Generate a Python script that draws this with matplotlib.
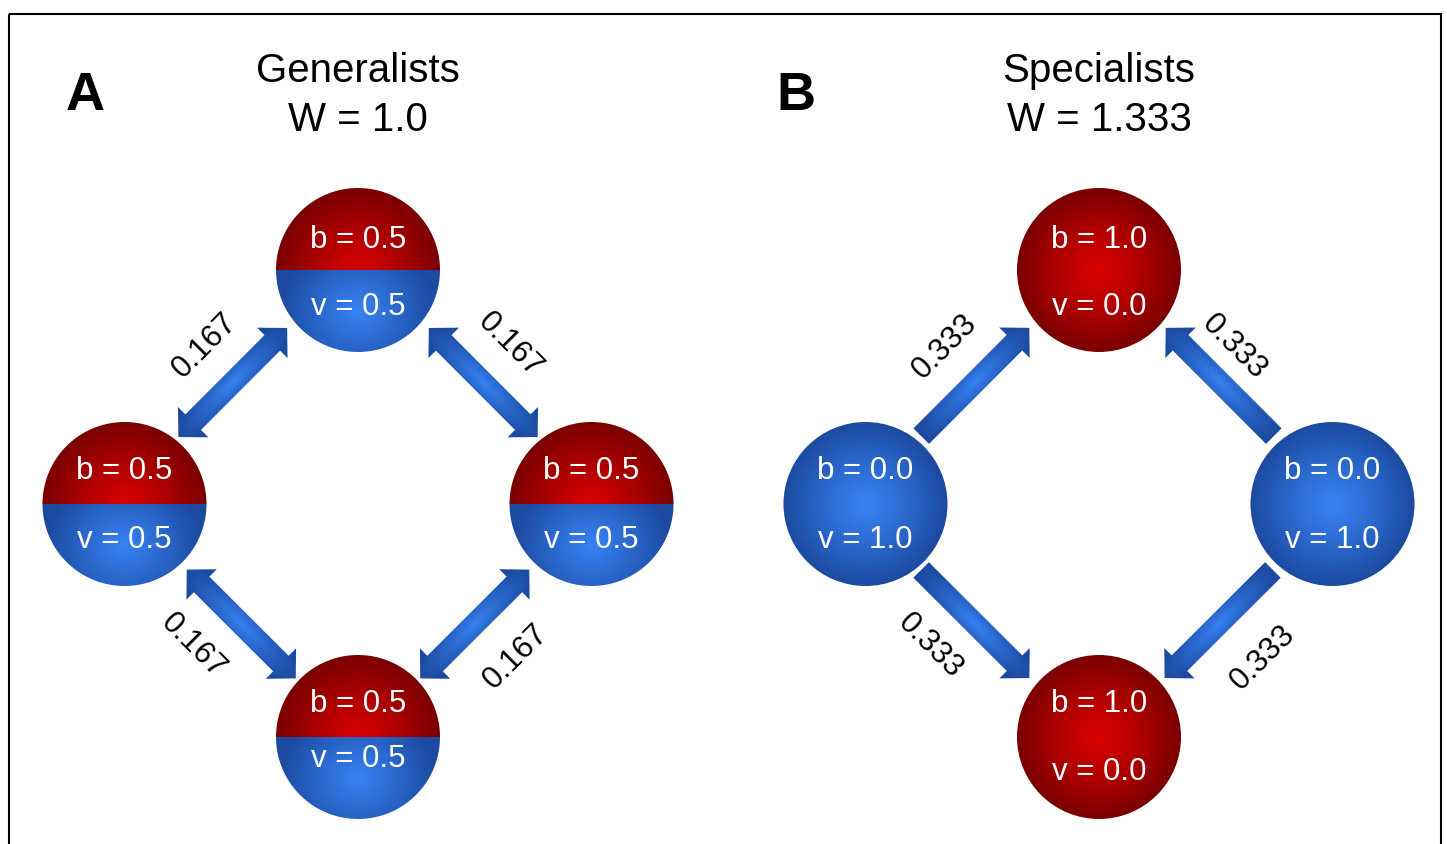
import numpy as np
import matplotlib.pyplot as plt
from matplotlib.patches import Circle, Polygon, Rectangle

plt.rcParams['font.family'] = ['Liberation Sans', 'DejaVu Sans']

# data
panel_letters = ["A", "B"]
panel_titles = ["Generalists", "Specialists"]
panel_W = ["1.0", "1.333"]
node_order = ["top", "left", "right", "bottom"]
b_values = [[0.5, 0.5, 0.5, 0.5], [1.0, 0.0, 0.0, 1.0]]
v_values = [[0.5, 0.5, 0.5, 0.5], [0.0, 1.0, 1.0, 0.0]]
# edges: (side node, top/bottom node)
edges = [(1, 0), (2, 0), (1, 3), (2, 3)]
edge_weights = [[0.167, 0.167, 0.167, 0.167], [0.333, 0.333, 0.333, 0.333]]
two_way = [True, False]

# layout (pixels)
W_PX, H_PX = 1447, 844
panel_cx = [358, 1099]
letter_x = [85, 796]
node_dx = [0, -233.5, 233.5, 0]
node_y = [270, 504, 504, 737]
R = 82
arrow_nudge = [[(-8.5, -4.5), (8.5, -4.5), (0, 3.5), (0, 3.5)],
               [(-7, -5), (4, -5), (-7, 3.5), (3, 3.5)]]
arrow_len = [154, 153]
label_off = [[(-27.5, -36.5), (26.5, -37.5), (-48.5, 22), (41.5, 33)],
             [(-30.5, -35.5), (14, -35), (-45.5, 22), (44.5, 34)]]
b_dy = [-30, -33, -33, -33]
v_dy = [[37, 36, 36, 22], [37, 36, 36, 35]]

RED_IN, RED_OUT = np.array([218, 0, 0]) / 255, np.array([122, 0, 0]) / 255
BLUE_IN, BLUE_OUT = np.array([55, 130, 242]) / 255, np.array([28, 74, 160]) / 255

fig = plt.figure(figsize=(W_PX / 100, H_PX / 100), dpi=100)
ax = fig.add_axes([0, 0, 1, 1])
ax.set_xlim(0, W_PX)
ax.set_ylim(H_PX, 0)
ax.axis('off')


def shade(patch, box, tfunc, c_in, c_out, z):
    x0, x1, y0, y1 = box
    xs = np.arange(np.floor(x0), np.ceil(x1) + 1)
    ys = np.arange(np.floor(y0), np.ceil(y1) + 1)
    X, Y = np.meshgrid(xs, ys)
    t = np.clip(tfunc(X, Y), 0, 1)[..., None]
    img = c_in * (1 - t) + c_out * t
    im = ax.imshow(img, extent=(xs[0], xs[-1], ys[0], ys[-1]), origin='lower',
                   interpolation='bilinear', zorder=z)
    patch.set_transform(ax.transData)
    im.set_clip_path(patch)


def draw_node(cx, cy, b, v):
    box = (cx - R - 2, cx + R + 2, cy - R - 2, cy + R + 2)
    if b == 1.0 or v == 1.0:
        cin, cout = (RED_IN, RED_OUT) if b == 1.0 else (BLUE_IN, BLUE_OUT)
        shade(Circle((cx, cy), R), box,
              lambda X, Y: (np.hypot(X - cx, Y - cy) / R) ** 1.2, cin, cout, 3)
    else:
        # split disc: red upper half, blue lower half (pixel y goes down)
        a = np.linspace(np.pi, 2 * np.pi, 80)
        top = np.c_[cx + R * np.cos(a), cy + R * np.sin(a)]
        bot = np.c_[cx + R * np.cos(a - np.pi), cy + R * np.sin(a - np.pi)]
        shade(Polygon(top, closed=True), box,
              lambda X, Y: (np.hypot(X - cx, Y - cy) / R) ** 1.1, RED_IN, RED_OUT, 3)
        shade(Polygon(bot, closed=True), box,
              lambda X, Y: (np.hypot(X - cx, (Y - cy - 0.5 * R) / 0.9) / (0.95 * R)) ** 1.1,
              BLUE_IN, BLUE_OUT, 3)


def draw_arrow(mx, my, ux, uy, L, both):
    hl, hw, sw = 21, 43, 22
    h = L / 2
    if both:
        loc = [(h, 0), (h - hl, hw / 2), (h - hl, sw / 2), (-h + hl, sw / 2), (-h + hl, hw / 2),
               (-h, 0), (-h + hl, -hw / 2), (-h + hl, -sw / 2), (h - hl, -sw / 2), (h - hl, -hw / 2)]
    else:
        loc = [(h, 0), (h - hl, hw / 2), (h - hl, sw / 2), (-h, sw / 2),
               (-h, -sw / 2), (h - hl, -sw / 2), (h - hl, -hw / 2)]
    pts = np.array([(mx + u * ux - w * uy, my + u * uy + w * ux) for u, w in loc])
    box = (pts[:, 0].min() - 2, pts[:, 0].max() + 2, pts[:, 1].min() - 2, pts[:, 1].max() + 2)

    def tf(X, Y):
        u = (X - mx) * ux + (Y - my) * uy
        w = -(X - mx) * uy + (Y - my) * ux
        return np.hypot(u / h, w / (hw / 2))
    shade(Polygon(pts, closed=True), box, tf, BLUE_IN, BLUE_OUT, 2)


for p in range(2):
    cx = panel_cx[p]
    xs = [cx + d for d in node_dx]

    ax.text(cx, 71, panel_titles[p], ha='center', va='center', fontsize=29)
    ax.text(cx, 120, "W = " + panel_W[p], ha='center', va='center', fontsize=29)
    ax.text(letter_x[p], 96, panel_letters[p], ha='center', va='center',
            fontsize=39, fontweight='bold')

    for k, (s, t) in enumerate(edges):
        sx, sy = xs[s], node_y[s]
        tx, ty = xs[t], node_y[t]
        d = np.hypot(tx - sx, ty - sy)
        ux, uy = (tx - sx) / d, (ty - sy) / d
        mx = (sx + tx) / 2 + arrow_nudge[p][k][0]
        my = (sy + ty) / 2 + arrow_nudge[p][k][1]
        draw_arrow(mx, my, ux, uy, arrow_len[p], two_way[p])
        ang = np.degrees(np.arctan2(-uy, ux))
        if ang > 90:
            ang -= 180
        elif ang < -90:
            ang += 180
        ax.text(mx + label_off[p][k][0], my + label_off[p][k][1], f"{edge_weights[p][k]:.3f}",
                ha='center', va='center', rotation=ang, rotation_mode='anchor', fontsize=22.5)

    for n in range(4):
        draw_node(xs[n], node_y[n], b_values[p][n], v_values[p][n])
        ax.text(xs[n], node_y[n] + b_dy[n], f"b = {b_values[p][n]:.1f}", color='white',
                ha='center', va='center', fontsize=22.5, zorder=5)
        ax.text(xs[n], node_y[n] + v_dy[p][n], f"v = {v_values[p][n]:.1f}", color='white',
                ha='center', va='center', fontsize=22.5, zorder=5)

ax.add_patch(Rectangle((9, 14), 1432, 850, fill=False, edgecolor='black', linewidth=1.5, zorder=6))

fig.savefig('out.png', dpi=100)
